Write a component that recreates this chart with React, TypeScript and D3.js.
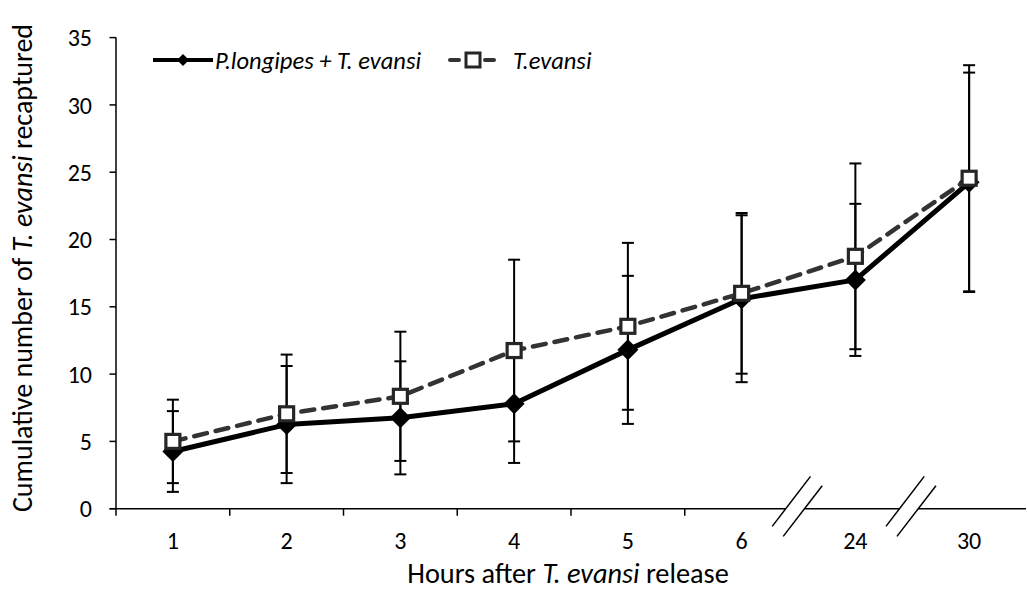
import React from "react";
import * as d3 from "d3";

const categories: string[] = ["1", "2", "3", "4", "5", "6", "24", "30"];
const seriesAName = "P.longipes + T. evansi";
const seriesBName = "T.evansi";
const seriesA: number[] = [4.25, 6.25, 6.75, 7.8, 11.8, 15.6, 17.0, 24.25];
const errA: number[] = [3.0, 4.35, 4.2, 4.4, 5.5, 6.2, 5.65, 8.15];
const seriesB: number[] = [5.0, 7.05, 8.35, 11.75, 13.55, 16.0, 18.75, 24.55];
const errB: number[] = [3.1, 4.4, 4.8, 6.75, 6.2, 5.97, 6.9, 8.4];
const yTicks: number[] = [0, 5, 10, 15, 20, 25, 30, 35];
// indices of category boundaries carrying an axis break instead of a tick
const breakBoundaries: number[] = [6, 7];

const W = 1027;
const H = 599;
const FONT = "Carlito, Calibri, Lato, 'Open Sans', sans-serif";

export default function App() {
  const x = d3.scaleBand<string>().domain(categories).range([116, 1026]).paddingInner(0).paddingOuter(0);
  const y = d3.scaleLinear().domain([0, 35]).range([508.7, 37.6]);
  const cx = (c: string) => (x(c) as number) + x.bandwidth() / 2;
  const y0 = y(0);

  const lineGen = d3
    .line<number>()
    .x((_, i) => cx(categories[i]))
    .y((v) => y(v));

  const boundaries = d3.range(0, categories.length + 1).map((i) => 116 + i * x.bandwidth());

  const diamond = (px: number, py: number, r: number) =>
    `M${px},${py - r}L${px + r},${py}L${px},${py + r}L${px - r},${py}Z`;

  const errBars = (vals: number[], errs: number[], key: string) =>
    vals.map((v, i) => {
      const px = cx(categories[i]);
      const hi = y(v + errs[i]);
      const lo = y(v - errs[i]);
      return (
        <g key={key + i} stroke="#000" strokeWidth={2}>
          <line x1={px} x2={px} y1={hi} y2={lo} />
          <line x1={px - 6} x2={px + 6} y1={hi} y2={hi} />
          <line x1={px - 6} x2={px + 6} y1={lo} y2={lo} />
        </g>
      );
    });

  const legendY = 60;

  return (
    <svg
      width={W}
      height={H}
      viewBox={`0 0 ${W} ${H}`}
      style={{ position: "fixed", left: 0, top: 0, background: "#fff", fontFamily: FONT }}
    >
      <rect x={0} y={0} width={W} height={H} fill="#fff" />

      {/* Y axis */}
      <line x1={116} x2={116} y1={y(35)} y2={y0} stroke="#000" strokeWidth={1.5} />
      {yTicks.map((t) => (
        <g key={"yt" + t}>
          <line x1={109.5} x2={116} y1={y(t)} y2={y(t)} stroke="#000" strokeWidth={1.5} />
          <text x={92} y={y(t)} dy="0.36em" textAnchor="end" fontSize={24} fill="#000">
            {t}
          </text>
        </g>
      ))}

      {/* X axis */}
      <line x1={109.5} x2={1026} y1={y0} y2={y0} stroke="#000" strokeWidth={1.5} />
      {boundaries.map((b, i) =>
        breakBoundaries.includes(i) || i === categories.length ? null : (
          <line key={"xt" + i} x1={b} x2={b} y1={y0} y2={y0 + 7} stroke="#000" strokeWidth={1.5} />
        )
      )}
      {categories.map((c) => (
        <text key={"xl" + c} x={cx(c)} y={549} textAnchor="middle" fontSize={24} fill="#000">
          {c}
        </text>
      ))}

      {/* axis breaks */}
      {breakBoundaries.map((bi) => {
        const bx = boundaries[bi] - 1.5;
        return (
          <g key={"br" + bi}>
            <rect x={bx - 11} y={y0 - 3} width={18.5} height={6} fill="#fff" />
            <line x1={bx - 24.8} y1={y0 + 17.7} x2={bx + 13.5} y2={y0 - 32.3} stroke="#000" strokeWidth={1.5} />
            <line x1={bx - 13.8} y1={y0 + 27.7} x2={bx + 25.2} y2={y0 - 23} stroke="#000" strokeWidth={1.5} />
          </g>
        );
      })}

      {/* error bars */}
      {errBars(seriesA, errA, "ea")}
      {errBars(seriesB, errB, "eb")}

      {/* series A */}
      <path d={lineGen(seriesA) || ""} fill="none" stroke="#000" strokeWidth={5} strokeLinejoin="round" />
      {seriesA.map((v, i) => (
        <path key={"ma" + i} d={diamond(cx(categories[i]), y(v), 10.5)} fill="#000" />
      ))}

      {/* series B */}
      <path
        d={lineGen(seriesB) || ""}
        fill="none"
        stroke="#333"
        strokeWidth={4.5}
        strokeDasharray="13 9"
        strokeLinecap="round"
      />
      {seriesB.map((v, i) => (
        <rect
          key={"mb" + i}
          x={cx(categories[i]) - 7}
          y={y(v) - 7}
          width={14}
          height={14}
          fill="#fff"
          stroke="#262626"
          strokeWidth={3.2}
        />
      ))}

      {/* legend */}
      <line x1={153} x2={213} y1={legendY} y2={legendY} stroke="#000" strokeWidth={4} />
      <path d={diamond(183, legendY, 6)} fill="#000" />
      <text x={215} y={legendY} dy="0.36em" fontSize={24.5} fontStyle="italic" fill="#000">
        {seriesAName}
      </text>
      <line x1={447} x2={497} y1={legendY} y2={legendY} stroke="#333" strokeWidth={4} strokeDasharray="9 26" strokeLinecap="round" strokeDashoffset={-3} />
      <rect x={466} y={legendY - 7} width={14} height={14} fill="#fff" stroke="#262626" strokeWidth={3} />
      <text x={513} y={legendY} dy="0.36em" fontSize={24.5} fontStyle="italic" fill="#000">
        {seriesBName}
      </text>

      {/* axis titles */}
      <text x={568} y={583} textAnchor="middle" fontSize={28.3} fill="#000">
        Hours after <tspan fontStyle="italic">T. evansi</tspan> release
      </text>
      <text
        transform={`translate(32, 268) rotate(-90)`}
        textAnchor="middle"
        fontSize={28}
        fill="#000"
      >
        Cumulative number of <tspan fontStyle="italic">T. evansi</tspan> recaptured
      </text>
    </svg>
  );
}
